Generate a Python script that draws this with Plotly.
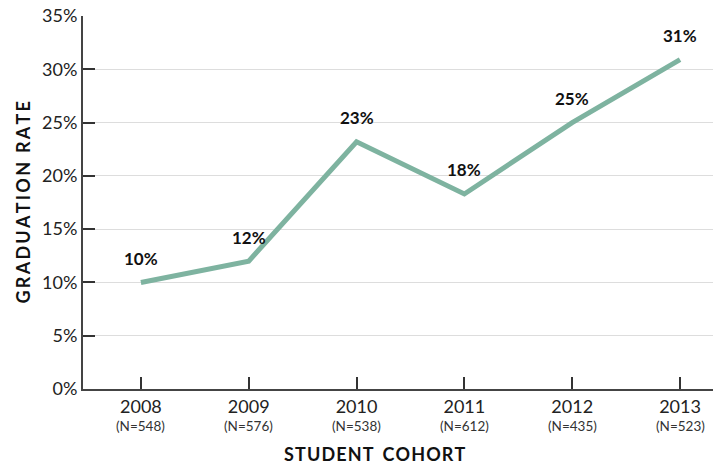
import plotly.graph_objects as go

years = ["2008", "2009", "2010", "2011", "2012", "2013"]
counts = ["548", "576", "538", "612", "435", "523"]
rates = [10.0, 12.0, 23.2, 18.3, 25.0, 30.9]
labels = ["10%", "12%", "23%", "18%", "25%", "31%"]
yticks = [0, 5, 10, 15, 20, 25, 30, 35]

xs = list(range(len(years)))

FONT = "Lato, DejaVu Sans"

fig = go.Figure()
fig.add_trace(go.Scatter(
    x=xs, y=rates, mode="lines",
    line=dict(color="#7eb3a0", width=5),
    hoverinfo="skip",
))
for x, y, t in zip(xs, rates, labels):
    fig.add_annotation(
        x=x, y=y, text=t, showarrow=False, yshift=24, yanchor="middle",
        font=dict(family=FONT, size=17, color="#111", weight="bold"),
    )
for x, n in zip(xs, counts):
    fig.add_annotation(
        x=x, xref="x", yref="paper", y=-(426 - 389) / 373, text=f"(N={n})",
        showarrow=False, yanchor="middle", xanchor="center",
        font=dict(family=FONT, size=13.5, color="#333"),
    )

fig.update_layout(
    width=719, height=464,
    margin=dict(l=83, r=6, t=16, b=75),
    plot_bgcolor="white", paper_bgcolor="white",
    showlegend=False,
    font=dict(family=FONT, color="#222"),
    xaxis=dict(
        range=[-0.537, 5.306], tickvals=xs, ticktext=years,
        ticks="inside", ticklen=12, tickcolor="#333", tickwidth=1.5,
        showline=True, linecolor="#444", linewidth=2, showgrid=False,
        zeroline=False, tickfont=dict(size=18, color="#222"), automargin=False,
    ),
    yaxis=dict(
        range=[0, 35], tickvals=yticks, ticktext=[f"{v}%" for v in yticks],
        ticks="inside", ticklen=12, tickcolor="#333", tickwidth=1.5,
        showline=True, linecolor="#444", linewidth=2,
        showgrid=True, gridcolor="#dddddd", gridwidth=1,
        zeroline=False, tickfont=dict(size=18, color="#222"), automargin=False,
    ),
)

fig.add_annotation(
    text="G\u2009R\u2009A\u2009D\u2009U\u2009A\u2009T\u2009I\u2009O\u2009N\u2002R\u2009A\u2009T\u2009E",
    xref="paper", yref="paper", x=-(83 - 22) / 630, y=0.5,
    showarrow=False, xanchor="center", yanchor="middle", textangle=-90,
    font=dict(family=FONT, size=18, color="#111", weight="bold"),
)

fig.add_annotation(
    text="S\u200aT\u200aU\u200aD\u200aE\u200aN\u200aT\u2002C\u200aO\u200aH\u200aO\u200aR\u200aT",
    xref="paper", yref="paper", x=(375 - 83) / 630, y=-(454 - 389) / 373,
    showarrow=False, xanchor="center", yanchor="middle",
    font=dict(family=FONT, size=18, color="#111", weight="bold"),
)

fig.write_html(
    "out.html",
    config={"displayModeBar": False},
    post_script="document.body.style.margin='0';document.body.style.padding='0';",
)
